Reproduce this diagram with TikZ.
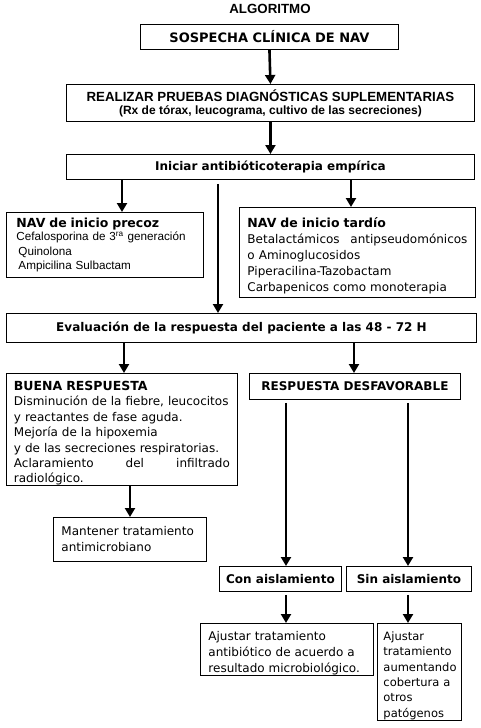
\documentclass[tikz,border=0pt]{standalone}
\usepackage{fontspec}
\setmainfont{DejaVu Sans}
\newfontfamily\arialf{Liberation Sans}
\usetikzlibrary{arrows.meta}
\newcommand\hd[1]{{\fontsize{12.5}{16}\selectfont\bfseries #1}}
\newcommand\topstrut{\rule{0pt}{17pt}}
\begin{document}
\begin{tikzpicture}[x=1pt,y=-1pt,
  every node/.style={font=\fontsize{12}{16}\selectfont},
  bx/.style={draw, line width=0.9pt, anchor=north west, inner sep=0pt},
  tbx/.style={bx, align=left, inner xsep=8pt},
  ttl/.style={font=\bfseries\fontsize{12}{14}\selectfont},
  arr/.style={line width=2.6pt, -{Triangle[length=9pt,width=10pt]}}]
\useasboundingbox (0,0) rectangle (480,728);
% x positions of connectors
\coordinate (xa) at (122,0);
\coordinate (xb) at (351,0);
\coordinate (xc) at (218,0);
\coordinate (xd) at (124,0);
\coordinate (xe) at (354,0);
\coordinate (xf) at (130,0);
\coordinate (xg) at (286,0);
\coordinate (xh) at (408,0);

\node[font=\arialf\bfseries\fontsize{13.3}{15}\selectfont] (title) at (270,9) {ALGORITMO};

\node[bx, minimum width=258, minimum height=25, font=\bfseries\fontsize{13}{15}\selectfont] (sosp) at (140,24) {SOSPECHA CLÍNICA DE NAV};

\node[bx, minimum width=408, minimum height=37, align=center, font=\arialf\bfseries\fontsize{13.3}{14}\selectfont] (real) at (66,84)
  {REALIZAR PRUEBAS DIAGNÓSTICAS SUPLEMENTARIAS\\[-1pt]{\fontsize{12}{13}\selectfont(Rx de tórax, leucograma, cultivo de las secreciones)}};

\node[bx, minimum width=408, minimum height=25, ttl] (ini) at (66,154) {Iniciar antibióticoterapia empírica};

\node[tbx, text width=177, minimum height=65, inner xsep=10pt, font=\fontsize{11.7}{14.5}\selectfont] (prec) at (6,212)
  {\hd{NAV de inicio precoz}\\[-1pt]
   {\arialf Cefalosporina de 3\textsuperscript{ra} generación\\
   \hspace*{2pt}Quinolona\\
   \hspace*{2pt}Ampicilina Sulbactam}};

\node[tbx, text width=220, minimum height=90] (tard) at (239,207)
  {\topstrut\hd{NAV de inicio tardío}\\
   Betalactámicos\hfill antipseudomónicos\hspace*{2pt}\\
   o Aminoglucosidos\\
   Piperacilina-Tazobactam\\
   Carbapenicos como monoterapia};

\node[bx, minimum width=470, minimum height=29, ttl] (eval) at (6,313) {Evaluación de la respuesta del paciente a las 48 - 72 H};

\node[tbx, text width=216, minimum height=112, inner xsep=7.5pt, font=\fontsize{12}{15.4}\selectfont] (buena) at (6,373)
  {\topstrut\hd{BUENA RESPUESTA}\\
   Disminución de la fiebre, leucocitos\\
   y reactantes de fase aguda.\\
   Mejoría de la hipoxemia\\
   y de las secreciones respiratorias.\\
   Aclaramiento\hfill del\hfill infiltrado\\
   radiológico.};

\node[bx, minimum width=211, minimum height=26, ttl] (desf) at (249,373) {RESPUESTA DESFAVORABLE};

\node[tbx, text width=137, minimum height=44] (mant) at (53,517)
  {Mantener tratamiento\\ antimicrobiano};

\node[bx, minimum width=122, minimum height=25, ttl] (con) at (219,566) {Con aislamiento};
\node[bx, minimum width=125, minimum height=25, ttl] (sin) at (346,566) {Sin aislamiento};

\node[tbx, text width=157, minimum height=52] (aj1) at (200,623)
  {\rule{0pt}{16pt}Ajustar tratamiento\\ antibiótico de acuerdo a\\ resultado microbiológico.};
\node[tbx, text width=72, minimum height=97, inner xsep=6pt, font=\fontsize{11.5}{15.4}\selectfont] (aj2) at (377,623)
  {\rule{0pt}{16pt}Ajustar\\ tratamiento\\ aumentando\\ cobertura a\\ otros\\ patógenos};

% connectors
\draw[arr] (sosp.south) -- (real.north);
\draw[arr] (real.south) -- (ini.north);
\draw[arr] (ini.south -| xa) -- (prec.north -| xa);
\draw[arr] (ini.south -| xb) -- (tard.north -| xb);
\draw[arr, shorten <=4pt] (ini.south -| xc) -- (eval.north -| xc);
\draw[arr] (eval.south -| xd) -- (buena.north -| xd);
\draw[arr] (eval.south -| xe) -- (desf.north -| xe);
\draw[arr] (buena.south -| xf) -- (mant.north -| xf);
\draw[arr, shorten <=3pt] (desf.south -| xg) -- (con.north -| xg);
\draw[arr, shorten <=3pt] (desf.south -| xh) -- (sin.north -| xh);
\draw[arr, shorten <=3pt] (con.south -| xg) -- (aj1.north -| xg);
\draw[arr, shorten <=3pt] (sin.south -| xh) -- (aj2.north -| xh);
\end{tikzpicture}
\end{document}
